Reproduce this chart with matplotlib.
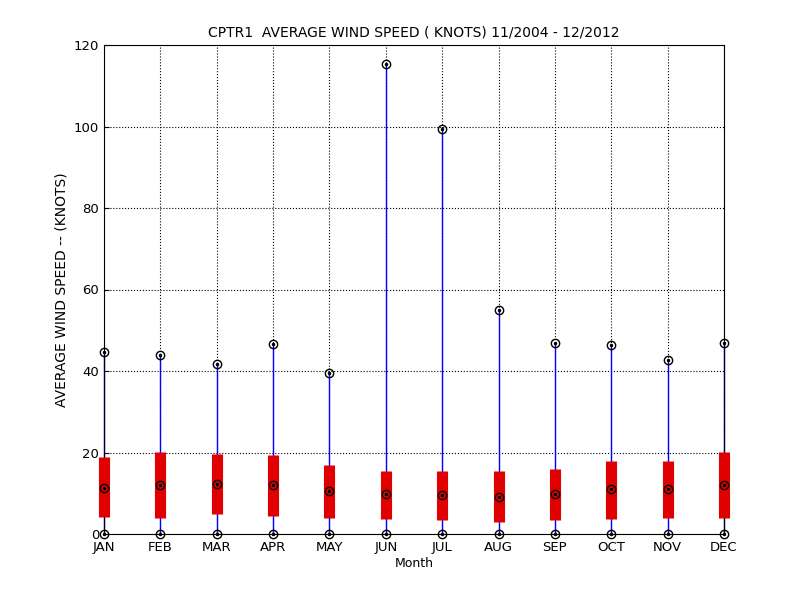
import matplotlib
matplotlib.use("Agg")
import matplotlib.pyplot as plt

months = ["JAN","FEB","MAR","APR","MAY","JUN","JUL","AUG","SEP","OCT","NOV","DEC"]
vmax = [44.7, 44.0, 41.7, 46.6, 39.5, 115.3, 99.5, 55.0, 46.8, 46.3, 42.7, 46.8]
vmin = [0]*12
q1 = [4.2, 4.0, 5.0, 4.5, 4.0, 3.8, 3.5, 3.0, 3.5, 3.8, 4.0, 4.0]
q3 = [18.9, 20.1, 19.7, 19.3, 17.0, 15.5, 15.5, 15.5, 16.0, 18.0, 18.0, 20.2]
med = [11.3, 12.0, 12.2, 12.0, 10.5, 9.7, 9.5, 9.2, 9.7, 11.0, 11.0, 12.0]

fig = plt.figure(figsize=(8, 6), dpi=100)
ax = fig.add_axes([0.13, 0.11, 0.775, 0.815])
x = list(range(1, 13))
ax.vlines(x, vmin, vmax, color="blue", lw=1, zorder=2, clip_on=False)
ax.vlines(x, q1, q3, color="#e00000", lw=8, zorder=3, clip_on=False)
for ys in (vmin, vmax, med):
    ax.plot(x, ys, "o", ms=6, mfc="none", mec="black", mew=1, zorder=4, clip_on=False)
    ax.plot(x, ys, ".", ms=3, color="black", zorder=5, clip_on=False)
ax.set_xlim(1, 12)
ax.set_ylim(0, 120)
ax.set_xticks(x)
ax.set_xticklabels(months)
ax.set_yticks(range(0, 121, 20))
ax.grid(True, color="black", linestyle=":", lw=0.8)
ax.tick_params(direction="in", labelsize=9.5)
ax.tick_params(axis="x", pad=5)
ax.set_xlabel("Month", fontsize=9, labelpad=2)
ax.set_ylabel("AVERAGE WIND SPEED -- (KNOTS)", fontsize=10)
ax.set_title("CPTR1  AVERAGE WIND SPEED ( KNOTS) 11/2004 - 12/2012", fontsize=10)
fig.savefig("out.png")
